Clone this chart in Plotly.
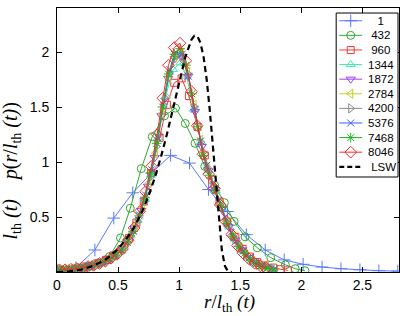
import plotly.graph_objects as go

# ---------------- data ----------------
labels = ["1", "432", "960", "1344", "1872", "2784", "4200", "5376", "7468", "8046"]

r_1 = [0.0, 0.155, 0.31, 0.465, 0.62, 0.775, 0.93, 1.085, 1.24, 1.395, 1.55, 1.705,
       1.86, 2.015, 2.17, 2.325, 2.48, 2.635, 2.79]
p_1 = [0.02, 0.04, 0.20, 0.49, 0.72, 0.90, 1.06, 0.99, 0.75, 0.55, 0.34, 0.20,
       0.11, 0.07, 0.045, 0.03, 0.02, 0.012, 0.008]

r_432 = [0.02, 0.10, 0.18, 0.26, 0.34, 0.43, 0.52, 0.60, 0.69, 0.78, 0.88, 0.97,
         1.05, 1.13, 1.21, 1.29, 1.37, 1.45, 1.54, 1.64, 1.75, 1.87, 1.95, 2.03]
p_432 = [0.02, 0.02, 0.03, 0.05, 0.08, 0.14, 0.31, 0.58, 0.94, 1.23, 1.42, 1.49,
         1.35, 1.17, 0.96, 0.79, 0.63, 0.46, 0.32, 0.22, 0.13, 0.065, 0.03, 0.012]

r_960 = [0.03, 0.09, 0.15, 0.22, 0.28, 0.34, 0.40, 0.46, 0.53, 0.59, 0.65, 0.71,
         0.77, 0.84, 0.90, 0.96, 1.02, 1.08, 1.15, 1.21, 1.27, 1.33, 1.39, 1.46,
         1.52, 1.58, 1.64, 1.70, 1.77, 1.83, 1.89]
p_960 = [0.02, 0.02, 0.03, 0.04, 0.055, 0.08, 0.11, 0.15, 0.21, 0.31, 0.45, 0.64,
         0.90, 1.22, 1.52, 1.72, 1.76, 1.60, 1.32, 1.06, 0.84, 0.64, 0.46, 0.32,
         0.21, 0.14, 0.09, 0.06, 0.04, 0.025, 0.015]

r_1344 = [0.02, 0.08, 0.14, 0.19, 0.25, 0.31, 0.37, 0.43, 0.48, 0.54, 0.60, 0.66,
          0.72, 0.77, 0.83, 0.89, 0.95, 1.01, 1.06, 1.12, 1.18, 1.24, 1.30, 1.35,
          1.41, 1.47, 1.53, 1.59, 1.64, 1.70, 1.76]
p_1344 = [0.02, 0.02, 0.03, 0.035, 0.05, 0.065, 0.09, 0.12, 0.16, 0.22, 0.33, 0.47,
          0.66, 0.88, 1.22, 1.60, 1.84, 1.90, 1.78, 1.48, 1.18, 0.92, 0.74, 0.58,
          0.41, 0.28, 0.19, 0.12, 0.08, 0.05, 0.03]

r_1872 = [0.03, 0.085, 0.14, 0.195, 0.25, 0.305, 0.36, 0.415, 0.47, 0.525, 0.58,
          0.635, 0.69, 0.745, 0.80, 0.855, 0.91, 0.965, 1.02, 1.075, 1.13, 1.185,
          1.24, 1.295, 1.35, 1.405, 1.46, 1.515, 1.57, 1.625, 1.68, 1.735]
p_1872 = [0.02, 0.02, 0.025, 0.035, 0.05, 0.065, 0.085, 0.11, 0.15, 0.20, 0.28,
          0.40, 0.56, 0.78, 1.04, 1.42, 1.76, 1.94, 1.96, 1.78, 1.46, 1.14,
          0.92, 0.75, 0.57, 0.41, 0.29, 0.20, 0.13, 0.085, 0.055, 0.035]

r_2784 = [0.01, 0.063, 0.116, 0.169, 0.222, 0.275, 0.328, 0.381, 0.434, 0.487,
          0.54, 0.593, 0.646, 0.699, 0.752, 0.805, 0.858, 0.911, 0.964, 1.017,
          1.07, 1.123, 1.176, 1.229, 1.282, 1.335, 1.388, 1.441, 1.494, 1.547,
          1.60, 1.653, 1.706]
p_2784 = [0.02, 0.02, 0.025, 0.03, 0.045, 0.055, 0.07, 0.09, 0.12, 0.16,
          0.21, 0.30, 0.42, 0.59, 0.81, 1.08, 1.44, 1.77, 1.95, 1.99,
          1.82, 1.52, 1.20, 0.95, 0.79, 0.62, 0.46, 0.33, 0.23, 0.16,
          0.10, 0.065, 0.045]

r_4200 = [0.035, 0.087, 0.139, 0.191, 0.243, 0.295, 0.347, 0.399, 0.451, 0.503,
          0.555, 0.607, 0.659, 0.711, 0.763, 0.815, 0.867, 0.919, 0.971, 1.023,
          1.075, 1.127, 1.179, 1.231, 1.283, 1.335, 1.387, 1.439, 1.491, 1.543,
          1.595, 1.647, 1.699]
p_4200 = [0.02, 0.02, 0.025, 0.035, 0.045, 0.06, 0.08, 0.10, 0.13, 0.17,
          0.23, 0.33, 0.46, 0.64, 0.86, 1.14, 1.50, 1.80, 1.96, 1.97,
          1.80, 1.50, 1.18, 0.95, 0.78, 0.61, 0.45, 0.32, 0.22, 0.15,
          0.10, 0.065, 0.04]

r_5376 = [0.025, 0.075, 0.125, 0.175, 0.225, 0.275, 0.325, 0.375, 0.425, 0.475,
          0.525, 0.575, 0.625, 0.675, 0.725, 0.775, 0.825, 0.875, 0.925, 0.975,
          1.025, 1.075, 1.125, 1.175, 1.225, 1.275, 1.325, 1.375, 1.425, 1.475,
          1.525, 1.575, 1.625, 1.675, 1.725, 1.775]
p_5376 = [0.02, 0.022, 0.027, 0.035, 0.045, 0.055, 0.07, 0.09, 0.115, 0.15,
          0.20, 0.27, 0.38, 0.52, 0.70, 0.93, 1.22, 1.55, 1.84, 2.00,
          1.98, 1.78, 1.48, 1.19, 0.97, 0.80, 0.65, 0.50, 0.36, 0.26,
          0.19, 0.13, 0.085, 0.06, 0.04, 0.025]

r_7468 = [0.0, 0.048, 0.096, 0.144, 0.192, 0.24, 0.288, 0.336, 0.384, 0.432,
          0.48, 0.528, 0.576, 0.624, 0.672, 0.72, 0.768, 0.816, 0.864, 0.912,
          0.96, 1.008, 1.056, 1.104, 1.152, 1.20, 1.248, 1.296, 1.344, 1.392,
          1.44, 1.488, 1.536, 1.584, 1.632, 1.68, 1.728, 1.776]
p_7468 = [0.02, 0.02, 0.025, 0.03, 0.038, 0.048, 0.058, 0.075, 0.095, 0.12,
          0.155, 0.20, 0.27, 0.37, 0.51, 0.68, 0.90, 1.17, 1.50, 1.80,
          1.98, 2.03, 1.88, 1.62, 1.32, 1.06, 0.88, 0.74, 0.59, 0.44,
          0.32, 0.23, 0.17, 0.11, 0.075, 0.05, 0.035, 0.02]

r_8046 = [0.02, 0.067, 0.114, 0.161, 0.208, 0.255, 0.302, 0.349, 0.396, 0.443,
          0.49, 0.537, 0.584, 0.631, 0.678, 0.725, 0.772, 0.819, 0.866, 0.913,
          0.96, 1.007, 1.054, 1.101, 1.148, 1.195, 1.242, 1.289, 1.336, 1.383,
          1.43, 1.477, 1.524, 1.571, 1.618, 1.665, 1.712]
p_8046 = [0.02, 0.02, 0.025, 0.03, 0.04, 0.05, 0.06, 0.078, 0.098, 0.125,
          0.16, 0.21, 0.29, 0.40, 0.55, 0.73, 0.96, 1.25, 1.58, 1.88,
          2.04, 2.08, 1.92, 1.64, 1.33, 1.07, 0.89, 0.76, 0.61, 0.46,
          0.34, 0.24, 0.17, 0.12, 0.08, 0.055, 0.035]

r_lsw = [0.0, 0.1, 0.2, 0.3, 0.4, 0.5, 0.6, 0.65, 0.7, 0.75, 0.8, 0.85, 0.9, 0.95,
         1.0, 1.05, 1.1, 1.125, 1.15, 1.175, 1.2, 1.225, 1.25, 1.275, 1.3,
         1.325, 1.35, 1.375, 1.4, 1.43]
p_lsw = [0.0, 0.005, 0.022, 0.057, 0.115, 0.208, 0.349, 0.444, 0.558, 0.694, 0.855,
         1.042, 1.253, 1.486, 1.727, 1.950, 2.111, 2.149, 2.143, 2.081, 1.955,
         1.754, 1.481, 1.149, 0.788, 0.452, 0.195, 0.053, 0.006, 0.0]

x_ticks = [0, 0.5, 1, 1.5, 2, 2.5]
x_tick_text = ["0", "0.5", "1", "1.5", "2", "2.5"]
y_ticks = [0.5, 1, 1.5, 2]
y_tick_text = ["0.5", "1", "1.5", "2"]

series_r = [r_1, r_432, r_960, r_1344, r_1872, r_2784, r_4200, r_5376, r_7468, r_8046]
series_p = [p_1, p_432, p_960, p_1344, p_1872, p_2784, p_4200, p_5376, p_7468, p_8046]

# ---------------- styles ----------------
colors = ["#5a78ff", "#2eaa2e", "#f23a3a", "#3ee8b0", "#9d3cf5", "#c4d21a",
          "#8a8a8a", "#3a5cff", "#22b522", "#f52a2a"]
symbols = ["cross-thin-open", "circle-open", "square-open", "triangle-up-open",
           "triangle-down-open", "triangle-left-open", "triangle-right-open",
           "x-thin-open", "asterisk-open", "diamond-open"]
msizes = [9, 8, 7, 8, 8, 8, 8, 7, 8, 9]

fig = go.Figure()

for r, p, c, s, ms in zip(series_r, series_p, colors, symbols, msizes):
    fig.add_trace(go.Scatter(
        x=r, y=p, mode="lines+markers",
        line=dict(color=c, width=1),
        marker=dict(symbol=s, size=ms, color=c, line=dict(color=c, width=1)),
        showlegend=False, cliponaxis=True))

fig.add_trace(go.Scatter(
    x=r_lsw, y=p_lsw, mode="lines",
    line=dict(color="black", width=2.2, dash="6px,4px"),
    showlegend=False))

# ---------------- hand-made MATLAB-style legend ----------------
leg_labels = labels + ["LSW"]
nbsp = "\u00a0"
for i, lab in enumerate(leg_labels):
    if i < len(labels):
        c, s, ms = colors[i], symbols[i], msizes[i]
        fig.add_trace(go.Scatter(
            x=[0.05, 0.42], y=[i, i], mode="lines", xaxis="x2", yaxis="y2",
            line=dict(color=c, width=1), showlegend=False, hoverinfo="skip"))
        fig.add_trace(go.Scatter(
            x=[0.235], y=[i], mode="markers", xaxis="x2", yaxis="y2",
            marker=dict(symbol=s, size=ms, color=c, line=dict(color=c, width=1)),
            showlegend=False, hoverinfo="skip"))
    else:
        fig.add_trace(go.Scatter(
            x=[0.05, 0.42], y=[i, i], mode="lines", xaxis="x2", yaxis="y2",
            line=dict(color="black", width=2.2, dash="5px,3px"),
            showlegend=False, hoverinfo="skip"))
    fig.add_annotation(
        x=0.49, y=i, xref="x2", yref="y2", xanchor="left", yanchor="middle",
        text=nbsp * (4 - len(lab)) + lab, showarrow=False,
        font=dict(family="Liberation Sans, Arial", size=11.5, color="black"))

fig.add_shape(type="rect", xref="x2 domain", yref="y2 domain",
              x0=0, x1=1, y0=0, y1=1, line=dict(color="black", width=1),
              fillcolor="rgba(0,0,0,0)", layer="above")

# ---------------- axis titles ----------------
fig.add_annotation(
    x=0.505, y=-0.068, xref="paper", yref="paper", xanchor="center", yanchor="top",
    borderpad=0,
    text="<i>r</i>/<i>l</i><sub>th</sub>" + nbsp + "<i>(t)</i>", showarrow=False,
    font=dict(family="Liberation Serif, Times New Roman", size=19, color="black"))
fig.add_annotation(
    x=-0.132, y=0.384, xref="paper", yref="paper", xanchor="center", yanchor="middle",
    textangle=-90,
    text=("<i>l</i><sub>th</sub>" + nbsp + "<i>(t)</i>" + nbsp * 4 +
          "<i>p</i>(<i>r</i>/<i>l</i><sub>th</sub>" + nbsp + "<i>(t)</i>)"),
    showarrow=False,
    font=dict(family="Liberation Serif, Times New Roman", size=20, color="black"))

tick_font = dict(family="Liberation Sans, Arial", size=14, color="black")
fig.update_layout(
    width=407, height=316,
    margin=dict(l=57, r=8, t=8, b=44),
    paper_bgcolor="white", plot_bgcolor="white",
    showlegend=False,
    xaxis=dict(range=[0, 2.8], tickvals=x_ticks, ticktext=x_tick_text,
               ticks="inside", ticklen=5, tickcolor="black", mirror="ticks",
               showline=True, linecolor="black", linewidth=1, showgrid=False,
               zeroline=False, tickfont=tick_font),
    yaxis=dict(range=[0, 2.4], tickvals=y_ticks, ticktext=y_tick_text,
               ticks="inside", ticklen=5, tickcolor="black", mirror="ticks",
               showline=True, linecolor="black", linewidth=1, showgrid=False,
               zeroline=False, tickfont=tick_font, ticklabelstandoff=4),
    xaxis2=dict(domain=[0.8163, 0.9971], range=[0, 1], anchor="y2",
                visible=False, fixedrange=True),
    yaxis2=dict(domain=[0.3598, 0.981], range=[10.7, -0.53], anchor="x2",
                visible=False, fixedrange=True),
)

fig.write_html("out.html",
               config={"displayModeBar": False},
               post_script="document.body.style.margin='0px';"
                           "document.body.style.overflow='hidden';")
